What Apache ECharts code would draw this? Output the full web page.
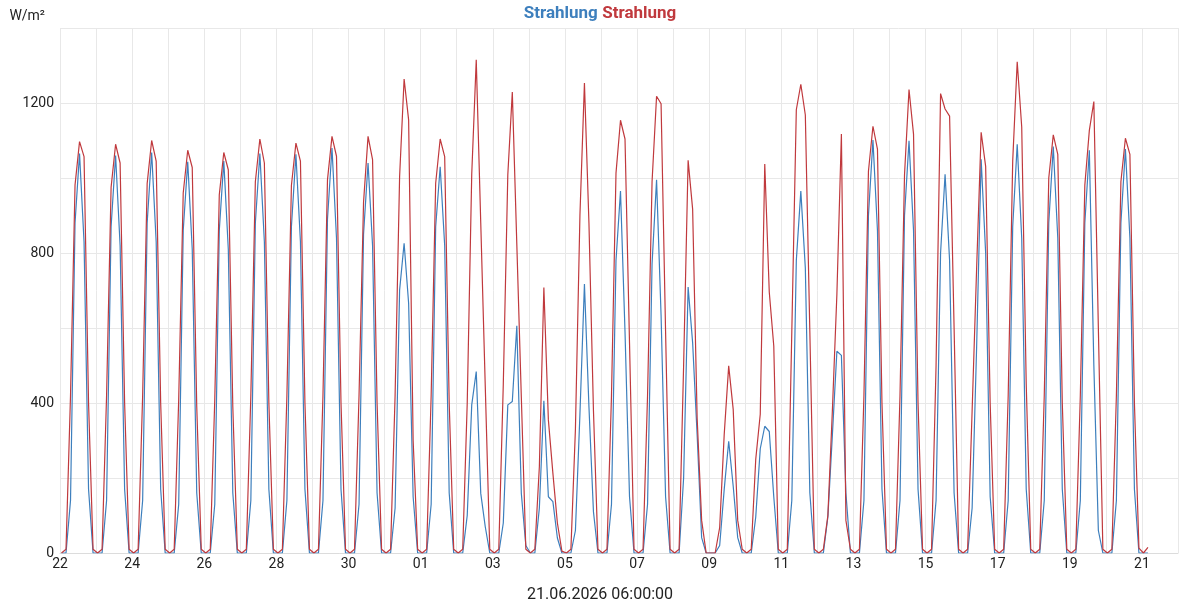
<!DOCTYPE html>
<html>
<head>
<meta charset="utf-8">
<script src="https://cdn.jsdelivr.net/npm/echarts@6/dist/echarts.min.js"></script>
<style>
html,body{margin:0;padding:0;background:#fff;}
#chart{width:1200px;height:600px;}
</style>
</head>
<body>
<div id="chart"></div>
<script>
// Tick labels: day of month for each day boundary (22 May 2026 .. 22 Jun 2026)
const dayLabels = ['22','23','24','25','26','27','28','29','30','31',
  '01','02','03','04','05','06','07','08','09','10','11','12','13','14','15',
  '16','17','18','19','20','21','22'];
// Sample hours within each day (3-hourly readings)
const sampleHours = [1, 4, 7, 10, 13, 16, 19, 22];
const axisCaption = '21.06.2026 06:00:00';
const seriesNames = ['Strahlung', 'Strahlung'];

// Blue series, one row per day (values at 01,04,07,10,13,16,19,22 h)
const blueValues = [
  0,0,140,880,1065,830,170,0,     // 22
  0,0,140,870,1060,820,170,0,     // 23
  0,0,140,880,1068,830,170,0,     // 24
  0,0,130,860,1043,810,160,0,     // 25
  0,0,130,860,1045,810,160,0,     // 26
  0,0,140,880,1065,830,170,0,     // 27
  0,0,140,870,1063,830,170,0,     // 28
  0,0,140,890,1080,840,170,0,     // 29
  0,0,130,850,1040,820,160,0,     // 30
  0,0,120,701,826,666,150,0,      // 31
  0,0,130,870,1030,820,160,0,     // 01
  0,0,100,395,484,159,70,0,       // 02
  0,0,80,395,404,606,159,20,      // 03
  0,0,120,406,150,137,40,0,       // 04
  0,0,60,370,717,390,110,0,       // 05
  0,0,130,780,965,590,150,0,      // 06
  0,0,130,771,995,634,150,0,      // 07
  0,0,200,709,561,315,41,0,       // 08
  0,0,20,169,298,178,41,0,        // 09
  0,0,96,278,338,324,150,0,       // 10
  0,0,140,780,965,760,160,0,      // 11
  0,0,96,315,538,527,160,0,       // 12
  0,0,140,900,1101,860,170,0,     // 13
  0,0,140,900,1099,860,170,0,     // 14
  0,0,140,800,1010,780,160,0,     // 15
  0,0,120,550,1050,800,150,0,     // 16
  0,0,140,870,1090,840,170,0,     // 17
  0,0,140,880,1084,840,170,0,     // 18
  0,0,140,880,1074,500,60,0,      // 19
  0,0,140,880,1077,840,170,0,     // 20
  0,0                             // 21
];
// Red series
const redValues = [
  0,10,420,981,1097,1057,400,10,  // 22
  0,10,420,975,1090,1040,400,10,  // 23
  0,10,420,985,1100,1045,400,10,  // 24
  0,10,410,960,1074,1028,390,10,  // 25
  0,10,410,955,1068,1022,390,10,  // 26
  0,10,420,990,1104,1040,400,10,  // 27
  0,10,420,980,1093,1045,400,10,  // 28
  0,10,420,995,1111,1058,400,10,  // 29
  0,10,420,935,1111,1049,400,10,  // 30
  0,10,420,1004,1264,1155,300,10, // 31
  0,10,420,986,1104,1057,400,10,  // 01
  0,10,400,1010,1315,880,445,10,  // 02
  0,10,450,1008,1229,823,416,10,  // 03
  0,10,230,708,355,213,80,5,      // 04
  0,10,330,900,1253,880,380,10,   // 05
  0,10,420,1013,1154,1104,560,10, // 06
  0,10,420,990,1218,1198,590,10,  // 07
  0,10,500,1047,917,360,87,0,     // 08
  0,0,68,315,499,383,87,10,       // 09
  0,10,250,370,1037,696,552,10,   // 10
  0,10,590,1182,1250,1168,590,10, // 11
  0,10,100,380,690,1117,87,10,    // 12
  0,10,420,1018,1138,1077,400,10, // 13
  0,10,420,1008,1236,1117,400,10, // 14
  0,10,500,1225,1184,1165,600,10, // 15
  0,10,380,760,1122,1031,400,10,  // 16
  0,10,420,1045,1310,1136,450,10, // 17
  0,10,420,1000,1115,1063,400,10, // 18
  0,10,420,981,1127,1204,600,10,  // 19
  0,10,420,990,1106,1063,400,13,  // 20
  0,15                            // 21
];

const BLUE = '#3d7fbd';
const RED = '#c0393d';

function toPoints(vals) {
  return vals.map((v, i) => {
    const day = Math.floor(i / sampleHours.length);
    const h = sampleHours[i % sampleHours.length];
    return [day * 24 + h, v];
  });
}

const chart = echarts.init(document.getElementById('chart'), null, {renderer: 'canvas'});
chart.setOption({
  animation: false,
  backgroundColor: '#ffffff',
  textStyle: {fontFamily: 'Roboto'},
  title: [{
    text: '{a|' + seriesNames[0] + '} {b|' + seriesNames[1] + '}',
    left: 'center',
    top: 0,
    textStyle: {
      rich: {
        a: {color: BLUE, fontSize: 17, fontWeight: 'bold', fontFamily: 'Roboto'},
        b: {color: RED, fontSize: 17, fontWeight: 'bold', fontFamily: 'Roboto'}
      }
    }
  }, {
    text: axisCaption,
    left: 'center',
    top: 582,
    textStyle: {color: '#222', fontSize: 16, fontWeight: 'normal', fontFamily: 'Roboto'}
  }],
  grid: {left: 60, right: 22, top: 28, bottom: 47, containLabel: false},
  xAxis: {
    type: 'value',
    min: 0,
    max: (dayLabels.length - 1) * 24,
    interval: 24,
    axisLine: {show: true, lineStyle: {color: '#dcdcdc'}},
    axisTick: {show: false},
    splitLine: {show: true, lineStyle: {color: '#e8e8e8', width: 1}},
    axisLabel: {
      color: '#222', fontSize: 14, margin: 4, fontFamily: 'Roboto',
      formatter: function (v) {
        const idx = Math.round(v / 24);
        return idx % 2 === 0 ? dayLabels[idx] : '';
      }
    }
  },
  yAxis: {
    type: 'value',
    min: 0,
    max: 1400,
    interval: 200,
    name: 'W/m²',
    nameLocation: 'end',
    nameGap: 5,
    nameTextStyle: {color: '#222', fontSize: 14, align: 'right', padding: [0, 15, 0, 0], fontFamily: 'Roboto'},
    axisLine: {show: false},
    axisTick: {show: false},
    splitLine: {show: true, lineStyle: {color: '#e8e8e8', width: 1}},
    axisLabel: {
      color: '#222', fontSize: 14, margin: 6, fontFamily: 'Roboto',
      formatter: function (v) { return v % 400 === 0 ? String(v) : ''; }
    }
  },
  series: [{
    name: seriesNames[0],
    type: 'line',
    data: toPoints(blueValues),
    symbol: 'none',
    lineStyle: {color: BLUE, width: 1.2},
    itemStyle: {color: BLUE},
    z: 2
  }, {
    name: seriesNames[1],
    type: 'line',
    data: toPoints(redValues),
    symbol: 'none',
    lineStyle: {color: RED, width: 1.2},
    itemStyle: {color: RED},
    z: 3
  }]
});
</script>
</body>
</html>
